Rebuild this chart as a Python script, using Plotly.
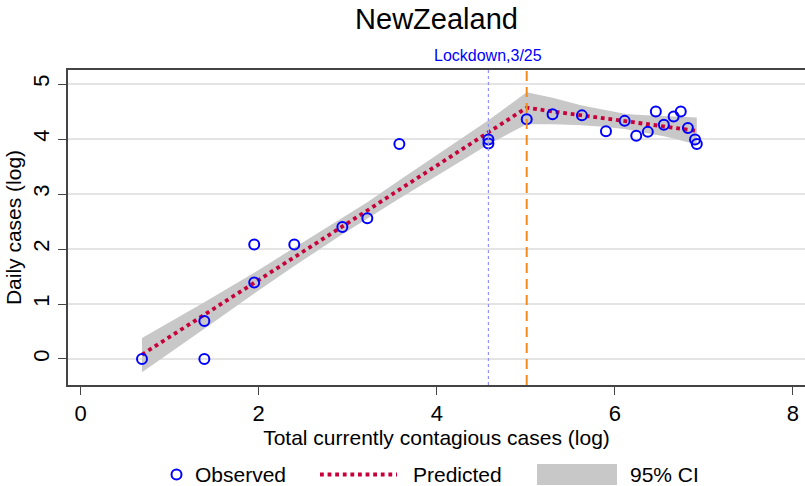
import plotly.graph_objects as go

# ---- data (log scale) ----
country = "NewZealand"
lockdown_label = "Lockdown,3/25"
lockdown_x = 4.58          # log of contagious cases on lockdown day
break_x = 5.01             # estimated break point

obs_x = [0.69, 1.39, 1.39, 1.95, 1.95, 2.40, 2.94, 3.22, 3.58, 4.58, 4.58,
         5.01, 5.30, 5.63, 5.90, 6.11, 6.24, 6.37, 6.46, 6.55, 6.66, 6.74,
         6.82, 6.90, 6.92]
obs_y = [0.00, 0.00, 0.69, 2.08, 1.39, 2.08, 2.40, 2.56, 3.91, 3.99, 3.92,
         4.36, 4.45, 4.43, 4.14, 4.33, 4.06, 4.13, 4.50, 4.26, 4.41, 4.50,
         4.20, 3.99, 3.91]

fit_x = [0.69, 1.39, 1.95, 2.40, 2.94, 3.22, 3.58, 4.58, 5.01, 5.30, 5.63,
         5.90, 6.11, 6.24, 6.37, 6.46, 6.55, 6.66, 6.74, 6.82, 6.90, 6.92]
fit_y = [0.08, 0.80, 1.38, 1.85, 2.41, 2.70, 3.08, 4.12, 4.57, 4.50, 4.43,
         4.37, 4.32, 4.29, 4.27, 4.25, 4.23, 4.21, 4.19, 4.17, 4.15, 4.15]
ci_lo = [-0.24, 0.55, 1.19, 1.69, 2.27, 2.55, 2.92, 3.90, 4.27, 4.27, 4.25,
         4.22, 4.18, 4.14, 4.11, 4.08, 4.05, 4.01, 3.98, 3.94, 3.92, 3.91]
ci_hi = [0.38, 1.03, 1.57, 2.02, 2.57, 2.85, 3.25, 4.34, 4.85, 4.75, 4.61,
         4.52, 4.46, 4.44, 4.43, 4.42, 4.41, 4.41, 4.40, 4.40, 4.39, 4.39]

x_ticks = [0, 2, 4, 6, 8]
y_ticks = [0, 1, 2, 3, 4, 5]

# ---- styling ----
FONT = "Liberation Sans, Arial, sans-serif"
BLUE = "#0000FF"
RED = "#C8003A"
GREY = "#C8C8C8"
W, H = 805, 486
ML, MR, MT, MB = 68, 0, 70, 101

fig = go.Figure()

# confidence band
fig.add_trace(go.Scatter(
    x=fit_x + fit_x[::-1], y=ci_hi + ci_lo[::-1],
    fill="toself", fillcolor=GREY, line=dict(width=0),
    mode="lines", hoverinfo="skip", showlegend=False))

# predicted line
fig.add_trace(go.Scatter(
    x=fit_x, y=fit_y, mode="lines",
    line=dict(color=RED, width=3.8, dash="dot"), showlegend=False))

# observed points
fig.add_trace(go.Scatter(
    x=obs_x, y=obs_y, mode="markers",
    marker=dict(symbol="circle-open", size=10, color=BLUE,
                line=dict(color=BLUE, width=2)),
    showlegend=False))

# reference lines
fig.add_shape(type="line", xref="x", yref="paper", x0=lockdown_x, x1=lockdown_x,
              y0=0, y1=1, line=dict(color="#9090FF", width=1.2, dash="dot"))
fig.add_shape(type="line", xref="x", yref="paper", x0=break_x, x1=break_x,
              y0=0, y1=1, line=dict(color="#F08A1E", width=2, dash="10px,6px"))
fig.add_annotation(x=lockdown_x, xref="x", y=1, yref="paper", yanchor="middle",
                   yshift=15, text=lockdown_label, showarrow=False,
                   font=dict(family=FONT, size=16, color=BLUE))

# ---- hand-built legend below the axis title ----
pw, ph = W - ML - MR, H - MT - MB


def px(x):
    return (x - ML) / pw


def py(y):
    return (H - MB - y) / ph


row = 474.5
fig.add_shape(type="circle", xref="paper", yref="paper",
              x0=px(171.5), x1=px(181.5), y0=py(row + 5), y1=py(row - 5),
              line=dict(color=BLUE, width=2))
fig.add_shape(type="line", xref="paper", yref="paper",
              x0=px(320), x1=px(397), y0=py(row), y1=py(row),
              line=dict(color=RED, width=3.8, dash="dot"))
fig.add_shape(type="rect", xref="paper", yref="paper",
              x0=px(537), x1=px(617), y0=py(485), y1=py(464),
              fillcolor=GREY, line=dict(width=0))
for label, left in [("Observed", 194), ("Predicted", 412), ("95% CI", 629)]:
    fig.add_annotation(x=px(left), xref="paper", y=py(row), yref="paper",
                       xanchor="left", yanchor="middle", text=label,
                       showarrow=False, borderpad=0,
                       font=dict(family=FONT, size=21, color="black"))

fig.update_layout(
    width=W, height=H,
    margin=dict(l=ML, r=MR, t=MT, b=MB),
    paper_bgcolor="white", plot_bgcolor="white",
    showlegend=False,
    font=dict(family=FONT, color="black"),
    title=dict(text=country, x=0.5, xref="paper", y=1 - 19 / H,
               yref="container", yanchor="middle", xanchor="center",
               font=dict(family=FONT, size=29, color="black")),
    xaxis=dict(
        range=[-0.141, 8.135], tickvals=x_ticks, ticks="outside", ticklen=8,
        tickwidth=1.3, tickcolor="#444", showgrid=False, zeroline=False,
        showline=True, linecolor="#444", linewidth=1.5, mirror=True,
        tickfont=dict(family=FONT, size=22),
        title=dict(text="Total currently contagious cases (log)",
                   font=dict(family=FONT, size=21), standoff=2)),
    yaxis=dict(
        range=[-0.473, 5.255], tickvals=y_ticks, ticks="outside", ticklen=8,
        tickwidth=1.3, tickcolor="#444", tickangle=-90,
        showgrid=True, gridcolor="#E4E4E4", gridwidth=1.5, zeroline=False,
        showline=True, linecolor="#444", linewidth=1.5,
        tickfont=dict(family=FONT, size=22),
        title=dict(text="Daily cases (log)",
                   font=dict(family=FONT, size=21), standoff=2)),
)

fig.write_html("out.html")
